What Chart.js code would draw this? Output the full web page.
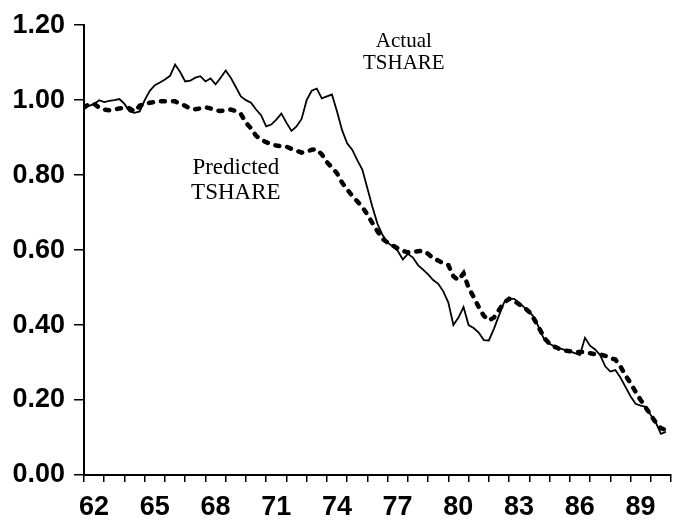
<!DOCTYPE html>
<html>
<head>
<meta charset="utf-8">
<script src="https://cdn.jsdelivr.net/npm/chart.js@4"></script>
<style>
  html, body { margin: 0; padding: 0; background: #fff; }
  #wrap { width: 680px; height: 525px; }
</style>
</head>
<body>
<div id="wrap"><canvas id="tshare"></canvas></div>
<script>
// quarterly series, first point = 1962 Q1
const startYear = 62;
const actualTshare = [
  0.98, 0.985, 0.99, 1.00, 0.995, 0.998, 1.00, 1.003, 0.99, 0.97,
  0.966, 0.97, 1.00, 1.025, 1.04, 1.047, 1.055, 1.065, 1.095, 1.075,
  1.05, 1.052, 1.06, 1.064, 1.05, 1.058, 1.042, 1.06, 1.079, 1.06,
  1.035, 1.01, 1.00, 0.993, 0.975, 0.96, 0.93, 0.935, 0.948, 0.964,
  0.94, 0.918, 0.93, 0.95, 1.00, 1.025, 1.031, 1.005, 1.01, 1.015,
  0.97, 0.92, 0.885, 0.868, 0.84, 0.815, 0.765, 0.715, 0.67, 0.64,
  0.62, 0.61, 0.598, 0.575, 0.59, 0.58, 0.56, 0.548, 0.535, 0.52,
  0.51, 0.49, 0.46, 0.40, 0.42, 0.448, 0.40, 0.392, 0.38, 0.36,
  0.359, 0.39, 0.425, 0.46, 0.47, 0.47, 0.46, 0.447, 0.435, 0.42,
  0.39, 0.36, 0.35, 0.343, 0.338, 0.334, 0.33, 0.325, 0.32, 0.366,
  0.345, 0.335, 0.32, 0.29, 0.276, 0.28, 0.26, 0.235, 0.21, 0.19,
  0.185, 0.182, 0.16, 0.14, 0.11, 0.115
];
const predictedTshare = [
  0.98, 0.99, 0.99, 0.98, 0.975, 0.973, 0.975, 0.978, 0.98, 0.978,
  0.97, 0.985, 0.99, 0.993, 0.995, 0.997, 0.997, 0.997, 0.997, 0.99,
  0.985, 0.977, 0.976, 0.978, 0.981, 0.978, 0.973, 0.971, 0.973, 0.975,
  0.971, 0.963, 0.94, 0.925, 0.905, 0.895, 0.888, 0.882, 0.879, 0.877,
  0.876, 0.87, 0.865, 0.86, 0.862, 0.868, 0.869, 0.855, 0.835, 0.82,
  0.805, 0.78, 0.762, 0.745, 0.73, 0.715, 0.695, 0.672, 0.65, 0.63,
  0.62, 0.612, 0.605, 0.598, 0.594, 0.595, 0.597, 0.598, 0.59, 0.578,
  0.572, 0.565, 0.56, 0.53, 0.52, 0.538, 0.50, 0.475, 0.448, 0.425,
  0.412, 0.42, 0.44, 0.46, 0.47, 0.465, 0.455, 0.447, 0.435, 0.415,
  0.39, 0.365, 0.35, 0.342, 0.336, 0.332, 0.33, 0.329, 0.328, 0.328,
  0.325, 0.322, 0.322, 0.318, 0.312, 0.308, 0.29, 0.266, 0.245, 0.222,
  0.2, 0.18, 0.16, 0.14, 0.125, 0.12
];
const yearLabels = [62, 65, 68, 71, 74, 77, 80, 83, 86, 89];
const yTicks = [0, 0.2, 0.4, 0.6, 0.8, 1.0, 1.2];

const toPoints = arr => arr.map((v, i) => ({ x: startYear + i / 4, y: v }));

// text notes placed in data units
const notes = [
  { lines: ['Actual', 'TSHARE'], year: 77.8, value: 1.128, size: 21, lead: 22 },
  { lines: ['Predicted', 'TSHARE'], year: 69.5, value: 0.787, size: 23, lead: 25 }
];

const notePlugin = {
  id: 'notes',
  afterDatasetsDraw(chart) {
    const { ctx, scales } = chart;
    ctx.save();
    ctx.fillStyle = '#000';
    ctx.textAlign = 'center';
    ctx.textBaseline = 'middle';
    notes.forEach(n => {
      ctx.font = n.size + 'px "Liberation Serif", "Times New Roman", serif';
      const cx = scales.x.getPixelForValue(n.year);
      const cy = scales.y.getPixelForValue(n.value);
      n.lines.forEach((t, i) => {
        ctx.fillText(t, cx, cy + (i - (n.lines.length - 1) / 2) * n.lead);
      });
    });
    ctx.restore();
  }
};

const axisFont = { family: '"Liberation Sans", Arial, sans-serif', size: 27, weight: 'bold' };

new Chart(document.getElementById('tshare'), {
  type: 'line',
  data: {
    datasets: [
      {
        label: 'Actual TSHARE',
        data: toPoints(actualTshare),
        borderColor: '#000',
        borderWidth: 1.8,
        pointRadius: 0,
        tension: 0
      },
      {
        label: 'Predicted TSHARE',
        data: toPoints(predictedTshare),
        borderColor: '#000',
        borderWidth: 4.5,
        borderDash: [4, 8],
        borderCapStyle: 'round',
        pointRadius: 0,
        tension: 0
      }
    ]
  },
  options: {
    responsive: true,
    maintainAspectRatio: false,
    animation: false,
    layout: { padding: { top: 24, right: 5, left: 0, bottom: 0 } },
    plugins: {
      legend: { display: false },
      tooltip: { enabled: false }
    },
    scales: {
      x: {
        type: 'linear',
        min: 62,
        max: 91,
        border: { display: true, color: '#000', width: 2 },
        grid: { display: true, drawOnChartArea: false, drawTicks: true, tickLength: 7, color: '#000', lineWidth: 1.5 },
        ticks: {
          stepSize: 1,
          autoSkip: false,
          maxRotation: 0,
          labelOffset: 10,
          padding: 9,
          color: '#000',
          font: axisFont,
          callback: v => yearLabels.includes(v) ? String(v) : ''
        },
        afterFit: s => { s.height = 50; }
      },
      y: {
        min: 0,
        max: 1.2,
        border: { display: true, color: '#000', width: 2 },
        grid: { display: true, drawOnChartArea: false, drawTicks: true, tickLength: 10, color: '#000', lineWidth: 1.5 },
        afterBuildTicks: s => { s.ticks = yTicks.map(v => ({ value: v })); },
        ticks: {
          padding: 9,
          color: '#000',
          font: axisFont,
          callback: v => Number(v).toFixed(2)
        },
        afterFit: s => { s.width = 84; }
      }
    }
  },
  plugins: [notePlugin]
});
</script>
</body>
</html>
